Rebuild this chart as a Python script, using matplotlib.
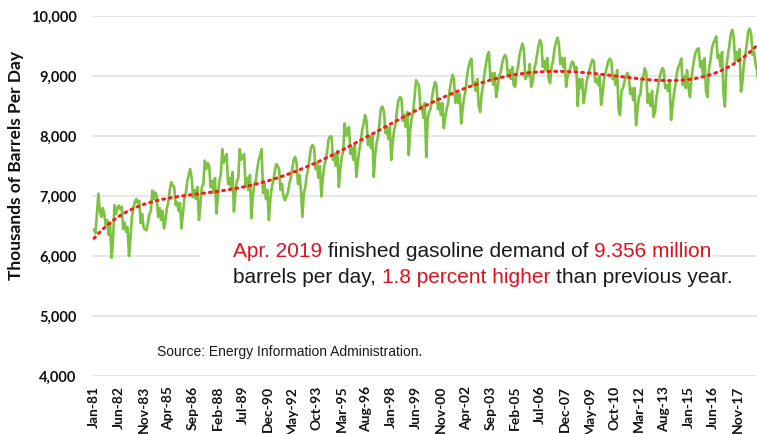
import numpy as np
import matplotlib.pyplot as plt
from matplotlib.patches import Rectangle

# Monthly finished gasoline demand, thousand barrels per day
demand_1980s = [
    6440, 6380, 6700, 7040, 6750, 6650, 6800, 6700, 6520, 6600, 6350, 6550,  # 1981
    5970, 6250, 6850, 6700, 6800, 6840, 6780, 6820, 6450, 6560, 6400, 6480,  # 1982
    6000, 6300, 6650, 6800, 6900, 6950, 6880, 6920, 6550, 6700, 6480, 6440,  # 1983
    6430, 6550, 6700, 6750, 7090, 6950, 7060, 7000, 6650, 6800, 6600, 6750,  # 1984
    6460, 6600, 6800, 6900, 7100, 7230, 7180, 7150, 6850, 6900, 6750, 6880,  # 1985
    6460, 6700, 6950, 7050, 7250, 7350, 7450, 7300, 6980, 7100, 6950, 7150,  # 1986
    6600, 6850, 7150, 7200, 7590, 7450, 7550, 7500, 7150, 7250, 7050, 7300,  # 1987
    6710, 7000, 7250, 7350, 7780, 7550, 7650, 7700, 7200, 7300, 7150, 7400,  # 1988
    6740, 7050, 7250, 7300, 7780, 7600, 7650, 7700, 7150, 7300, 7100, 7350,  # 1989
]
demand_1990s = [
    6630, 7000, 7200, 7250, 7450, 7600, 7670, 7780, 7050, 7200, 6950, 7100,  # 1990
    6600, 6950, 7150, 7250, 7400, 7530, 7500, 7450, 7100, 7200, 7000, 6930,  # 1991
    7000, 7050, 7200, 7300, 7450, 7600, 7650, 7550, 7200, 7350, 7100, 6650,  # 1992
    7050, 7150, 7350, 7450, 7650, 7810, 7850, 7800, 7450, 7550, 7300, 7500,  # 1993
    6990, 7300, 7500, 7600, 7750, 7950, 7990, 7990, 7600, 7700, 7500, 7750,  # 1994
    7150, 7450, 7650, 7750, 8210, 8000, 8100, 8150, 7700, 7800, 7600, 7850,  # 1995
    7320, 7550, 7750, 7900, 8100, 8200, 8350, 8250, 7850, 8000, 7800, 8000,  # 1996
    7320, 7700, 7900, 8000, 8250, 8470, 8490, 8400, 8050, 8150, 7950, 8150,  # 1997
    7600, 7900, 8100, 8200, 8450, 8600, 8650, 8620, 8250, 8350, 8150, 8400,  # 1998
    7680, 8100, 8300, 8400, 8650, 8930, 8880, 8850, 8450, 8500, 8300, 8550,  # 1999
]
demand_2000s = [
    7650, 8300, 8400, 8450, 8650, 8800, 8900, 8850, 8450, 8550, 8350, 8550,  # 2000
    8130, 8300, 8450, 8550, 8750, 8900, 9020, 8950, 8550, 8700, 8550, 8700,  # 2001
    8210, 8450, 8650, 8750, 9000, 9150, 9250, 9290, 8850, 8900, 8750, 8950,  # 2002
    8500, 8400, 8700, 8850, 9050, 9200, 9350, 9400, 8950, 9050, 8850, 9050,  # 2003
    8650, 8800, 9000, 9050, 9200, 9300, 9350, 9300, 9000, 9100, 8950, 9150,  # 2004
    8850, 8820, 9050, 9150, 9350, 9450, 9540, 9450, 8950, 9050, 9000, 9200,  # 2005
    8820, 8900, 9100, 9200, 9350, 9500, 9600, 9550, 9150, 9250, 9100, 9300,  # 2006
    8950, 8880, 9150, 9250, 9450, 9550, 9640, 9550, 9200, 9300, 9150, 9300,  # 2007
    8820, 9000, 9050, 9150, 9240, 9220, 9100, 9150, 8500, 8950, 8800, 8950,  # 2008
    8550, 8700, 8900, 9000, 9100, 9200, 9270, 9250, 8900, 8950, 8850, 9000,  # 2009
]
demand_2010s = [
    8520, 8700, 8950, 9050, 9150, 9250, 9290, 9250, 8950, 9000, 8850, 9100,  # 2010
    8450, 8350, 8750, 8800, 8900, 9000, 9050, 9000, 8700, 8800, 8600, 8800,  # 2011
    8180, 8450, 8650, 8700, 8950, 9000, 9130, 9050, 8550, 8700, 8500, 8750,  # 2012
    8320, 8400, 8650, 8800, 8950, 9050, 9130, 9100, 8800, 8850, 8750, 8900,  # 2013
    8270, 8500, 8700, 8850, 9050, 9150, 9200, 9290, 8850, 9000, 8800, 9100,  # 2014
    8800, 8650, 8950, 9150, 9300, 9400, 9450, 9460, 9150, 9250, 9000, 9300,  # 2015
    8750, 8650, 9100, 9250, 9450, 9550, 9600, 9660, 9300, 9350, 9150, 9400,  # 2016
    8700, 8490, 9150, 9350, 9500, 9700, 9770, 9650, 9250, 9400, 9250, 9450,  # 2017
    8740, 8900, 9200, 9350, 9550, 9750, 9790, 9700, 9350, 9400, 9200, 9100,  # 2018
    8850, 8950, 9200, 9356,                                                  # 2019
]

tick_labels = ['Jan-81', 'Jun-82', 'Nov-83', 'Apr-85', 'Sep-86', 'Feb-88', 'Jul-89',
               'Dec-90', 'May-92', 'Oct-93', 'Mar-95', 'Aug-96', 'Jan-98', 'Jun-99',
               'Nov-00', 'Apr-02', 'Sep-03', 'Feb-05', 'Jul-06', 'Dec-07', 'May-09',
               'Oct-10', 'Mar-12', 'Aug-13', 'Jan-15', 'Jun-16', 'Nov-17']
tick_step = 17  # months between labels

demand = np.array(demand_1980s + demand_1990s + demand_2000s + demand_2010s, dtype=float)
months = np.arange(len(demand))

# 6th order polynomial trend, like the spreadsheet trendline
trend = np.polynomial.Polynomial.fit(months, demand, 6)(months)

W, H = 757, 434
fig = plt.figure(figsize=(W / 100, H / 100), dpi=100)
ax = fig.add_axes([92 / W, 1 - 376 / H, 1 - 92 / W, 360 / H])

ax.plot(months, demand, color='#7DC242', lw=1.9, zorder=2)
ax.plot(months, trend, color='#FF1A1A', lw=2.2, linestyle=(0, (0.6, 1.6)),
        dash_capstyle='round', zorder=3)

ax.set_ylim(4000, 10000)
ax.set_xlim(-1.4, 455)
ax.set_yticks(range(4000, 10001, 1000))
ax.set_yticklabels([f'{v:,}' for v in range(4000, 10001, 1000)],
                   fontfamily='Lato', fontweight='bold', fontsize=10.5, color='#111111')
ax.set_xticks(np.arange(len(tick_labels)) * tick_step)
ax.set_xticklabels(tick_labels, rotation=90, fontfamily='Lato', fontweight='bold',
                   fontsize=10, color='#111111')
ax.tick_params(axis='y', length=0, pad=11)
ax.tick_params(axis='x', length=0, pad=7)
ax.grid(axis='y', color='#E2E2E2', lw=1.1)
ax.set_axisbelow(True)
for s in ax.spines.values():
    s.set_visible(False)

# white box behind the note, it hides the 6,000 gridline there
ax.add_patch(Rectangle((200 / W, 1 - 300 / H), 513 / W, 62 / H,
                       transform=fig.transFigure, facecolor='white',
                       edgecolor='none', zorder=1, clip_on=False))

fig.text(16.5 / W, 1 - 166 / H, 'Thousands of Barrels Per Day', rotation=90,
         ha='center', va='center', fontfamily='Lato', fontweight='bold',
         fontsize=12.5, color='#111111')

red = '#E0101E'
black = '#1A1A1A'
note = dict(fontfamily='Liberation Sans', fontsize=15)
renderer = fig.canvas.get_renderer()


def colored_line(x, y, parts):
    # measure each prefix of the line, then put the piece right aligned at its end
    full = ''
    for i, (txt, col) in enumerate(parts):
        full = full + txt
        if i == 0:
            fig.text(x, y, txt, color=col, va='baseline', **note)
            continue
        tmp = fig.text(x, y, full, va='baseline', **note)
        right = tmp.get_window_extent(renderer).x1 / fig.bbox.width
        tmp.remove()
        fig.text(right, y, txt.strip(), color=col, ha='right', va='baseline', **note)


colored_line(233 / W, 1 - 257 / H, [('Apr. 2019', red),
                                     (' finished gasoline demand of', black),
                                     (' 9.356 million', red)])
colored_line(233 / W, 1 - 283 / H, [('barrels per day,', black),
                                     (' 1.8 percent higher', red),
                                     (' than previous year.', black)])

fig.text(157 / W, 1 - 356 / H, 'Source: Energy Information Administration.',
         fontfamily='Liberation Sans', fontsize=10, color='#1A1A1A', va='baseline')

fig.savefig('out.png', dpi=100)
